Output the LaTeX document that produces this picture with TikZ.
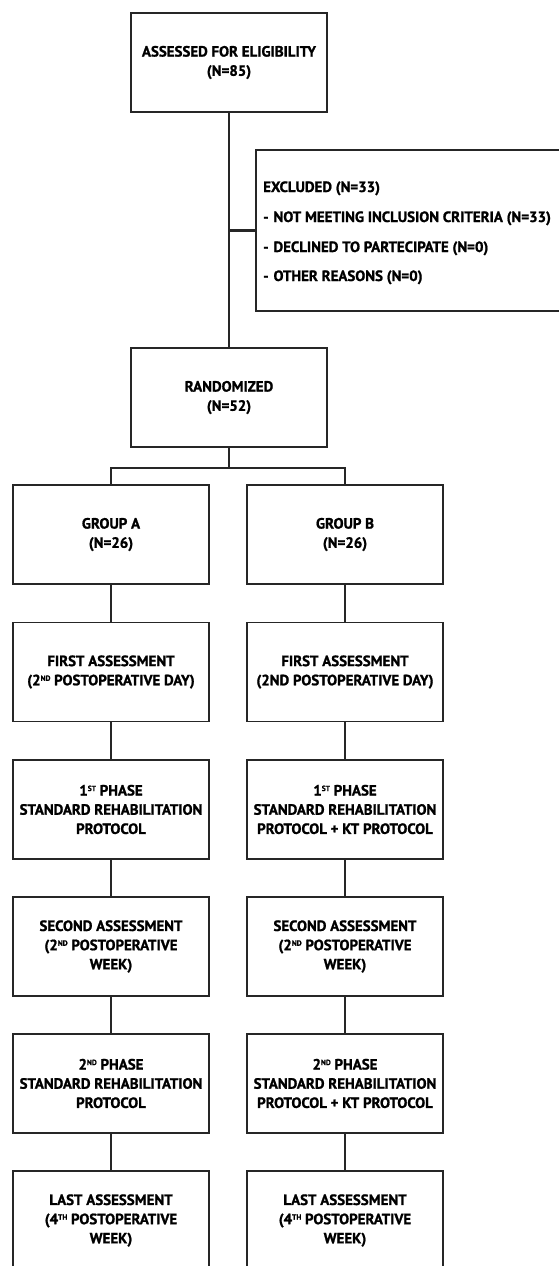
\documentclass[tikz,border=0pt]{standalone}
\usepackage{fontspec}
\setmainfont{PT Sans}[BoldFont={PT Sans Bold}, BoldFeatures={FakeBold=1.2}]
\newcommand{\supx}[1]{\raisebox{0.6ex}{\fontsize{7.5}{7.5}\selectfont #1}}
\begin{document}
\begin{tikzpicture}[x=1pt,y=-1pt,
  flowbox/.style={draw=black!85, line width=1.9pt, minimum width=196pt, minimum height=99pt,
    inner sep=0pt, align=center, font=\fontsize{14.9}{19.2}\selectfont\bfseries},
  link/.style={draw=black!85, line width=2.2pt},
  exline/.style={anchor=base west, inner sep=0pt, font=\fontsize{14.9}{19}\selectfont\bfseries}]
\useasboundingbox (0,0) rectangle (559,1266);
\clip (0,0) rectangle (559,1266);
\fill[white] (0,0) rectangle (559,1266);
% top column
\node[flowbox] (elig) at (229,62.5) {ASSESSED FOR ELIGIBILITY\\(N=85)};
\node[flowbox, minimum width=344pt, minimum height=161pt] (excl) at (428,230.5) {};
\node[exline] (ex1) at (263,192) {EXCLUDED (N=33)};
\node[exline] (ex2) at (263,222) {-\hspace{5pt}NOT MEETING INCLUSION CRITERIA (N=33)};
\node[exline] (ex3) at (263,252) {-\hspace{5pt}DECLINED TO PARTECIPATE (N=0)};
\node[exline] (ex4) at (263,281) {-\hspace{5pt}OTHER REASONS (N=0)};
\node[flowbox] (rand) at (229,397.5) {RANDOMIZED\\(N=52)};
% group A
\node[flowbox] (a1) at (111,534.5) {GROUP A\\(N=26)};
\node[flowbox] (a2) at (111,672) {FIRST ASSESSMENT\\(2\supx{ND} POSTOPERATIVE DAY)};
\node[flowbox] (a3) at (111,809.5) {1\supx{ST} PHASE\\STANDARD REHABILITATION\\PROTOCOL};
\node[flowbox] (a4) at (111,946.5) {SECOND ASSESSMENT\\(2\supx{ND} POSTOPERATIVE\\WEEK)};
\node[flowbox] (a5) at (111,1083.5) {2\supx{ND} PHASE\\STANDARD REHABILITATION\\PROTOCOL};
\node[flowbox] (a6) at (111,1220.5) {LAST ASSESSMENT\\(4\supx{TH} POSTOPERATIVE\\WEEK)};
% group B
\node[flowbox] (b1) at (345,534.5) {GROUP B\\(N=26)};
\node[flowbox] (b2) at (345,672) {FIRST ASSESSMENT\\(2ND POSTOPERATIVE DAY)};
\node[flowbox] (b3) at (345,809.5) {1\supx{ST} PHASE\\STANDARD REHABILITATION\\PROTOCOL + KT PROTOCOL};
\node[flowbox] (b4) at (345,946.5) {SECOND ASSESSMENT\\(2\supx{ND} POSTOPERATIVE\\WEEK)};
\node[flowbox] (b5) at (345,1083.5) {2\supx{ND} PHASE\\STANDARD REHABILITATION\\PROTOCOL + KT PROTOCOL};
\node[flowbox] (b6) at (345,1220.5) {LAST ASSESSMENT\\(4\supx{TH} POSTOPERATIVE\\WEEK)};
% connectors
\draw[link] (elig.south) -- (rand.north);
\draw[link] (excl.west) -- (excl.west -| elig.south);
\draw[link] (rand.south) -- ++(0,20) coordinate (split);
\draw[link] (a1.north) |- (split) -| (b1.north);
\draw[link] (a1) -- (a2) -- (a3) -- (a4) -- (a5) -- (a6);
\draw[link] (b1) -- (b2) -- (b3) -- (b4) -- (b5) -- (b6);
\end{tikzpicture}
\end{document}
